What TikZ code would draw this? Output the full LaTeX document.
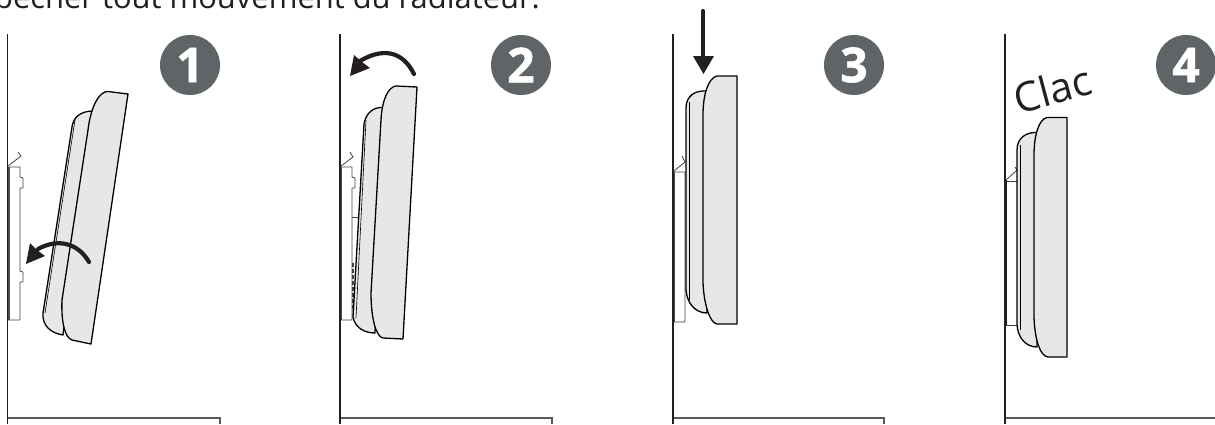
\documentclass[tikz,border=0pt]{standalone}
\usepackage{fontspec}
\setmainfont{Open Sans}
\newfontfamily\badgefont[BoldFeatures={FakeBold=1.2}]{Open Sans}
\definecolor{badge}{HTML}{5F6566}
\definecolor{bodyfill}{HTML}{E6E7E8}
\definecolor{ink}{HTML}{231F20}
\tikzset{
  wall/.style={draw=ink,line width=1.8pt},
  shelf/.style={draw=black!65,line width=1.1pt},
  bracket/.style={draw=black!75,line width=.8pt,line join=round},
  body/.style={draw=black,fill=bodyfill,line width=1.3pt,line join=round},
  thin/.style={draw=black,line width=.6pt},
  badgenode/.style={circle,fill=badge,minimum size=60pt,inner sep=0pt,text=white,font=\fontsize{48}{48}\selectfont\badgefont\bfseries},
  turn/.style={draw=ink,line width=4.2pt,line cap=round},
  head/.style={fill=ink,draw=none},
}
\begin{document}
\begin{tikzpicture}[x=1pt,y=-1pt]
\useasboundingbox (0,0) rectangle (1215,424);
\clip (0,0) rectangle (1215,424);
\node[anchor=base west,inner sep=0pt,font=\fontsize{30.9}{31}\selectfont,text=ink] (title) at (-6,8) {pêcher tout mouvement du radiateur.};
% walls and shelves
\draw[wall] (7.5,34) -- (7.5,424);
\draw[wall] (340,34) -- (340,424);
\draw[wall] (673,34) -- (673,424);
\draw[wall] (1005,34) -- (1005,424);
\draw[shelf] (8,418) -- (220,418) -- (220,424);
\draw[shelf] (341,418) -- (552,418) -- (552,424);
\draw[shelf] (674,418) -- (884,418) -- (884,424);
\draw[shelf] (1006,418) -- (1215,418);
% badges
\node[badgenode] (b1) at (190,65) {1};
\node[badgenode] (b2) at (521,65) {2};
\node[badgenode] (b3) at (854,65) {3};
\node[badgenode] (b4) at (1186,65) {4};
% panel 1
\draw[bracket] (8,167) -- (20,167) -- (20,177) -- (23,178) -- (23,188) -- (20,188) -- (20,271) -- (23,272) -- (23,282) -- (20,282) -- (20,320) -- (8,320);
\draw[bracket] (8,166) -- (21,156) -- (18,152);
\draw[line width=1.4pt,draw=black!70] (9,167) -- (9,320);
\draw[body] (93,111) .. controls (80,111) and (73,118) .. (72,127) -- (43,313) .. controls (42,325) and (50,333) .. (63,335) -- cycle;
\draw[thin] (75,120) -- (45,313);
\draw[body] (128,94) -- (108,91.5) .. controls (100,91) and (91,105) .. (88,130) -- (62,300) .. controls (61,322) and (65,338) .. (72,340) -- (91,344) -- cycle;
\draw[turn] (89,262) .. controls (78,243) and (58,238) .. (38,249);
\fill[head] (26,264) -- (30,243) -- (37,250) -- (45,256) -- cycle;
% panel 2
\draw[bracket] (341,167) -- (352,167) -- (352,177) -- (355,178) -- (355,188) -- (352,188) -- (352,320) -- (341,320);
\draw[bracket] (341,166) -- (353,157) -- (350,152);
\draw[bracket] (352,217) -- (358,217);
\draw[line width=1pt,draw=black!70] (341.5,167) -- (341.5,320);
\draw[line width=1.4pt,draw=black!75,dash pattern=on 4pt off 2pt] (353,263) -- (353,310);
\draw[body] (383,107.5) .. controls (373,107) and (366,113) .. (364,124) -- (353,317) .. controls (355,328) and (365,333) .. (375,333) -- cycle;
\draw[thin] (366,120) -- (356,318);
\draw[body] (417,87) -- (396,86) .. controls (388,87) and (382,100) .. (381,120) -- (371,293) .. controls (371,318) and (376,337) .. (383,338) -- (403,339) -- cycle;
\draw[turn] (414,74) .. controls (402,50) and (382,48) .. (360,61);
\fill[head] (350,76) -- (354,55) -- (362,62) -- (370,68) -- cycle;
% panel 3
\draw[bracket] (674,172) -- (685,172) -- (685,320) .. controls (685,322) .. (683,322) -- (674,322);
\draw[bracket] (674,171) -- (685,162) -- (682,156);
\draw[line width=1.2pt,draw=black!70] (674.5,172) -- (674.5,322);
\draw[body] (707,91) .. controls (695,90) and (686,96) .. (686,108) -- (686,290) .. controls (687,303) and (695,313) .. (707,313) -- cycle;
\draw[thin] (689,102) -- (689,300);
\draw[body] (737,76) -- (717,76) .. controls (708,78) and (703,95) .. (703,115) -- (703,283) .. controls (704,305) and (710,323) .. (717,324) -- (737,324) -- cycle;
\draw[turn] (703,11) -- (703,58);
\fill[head] (693,56) -- (714,56) -- (703.5,74) -- cycle;
% panel 4
\draw[bracket] (1006,181) -- (1017,181) (1006,325) -- (1017,325);
\draw[bracket] (1006,180) -- (1017,170) -- (1015,167);
\draw[line width=1.4pt,draw=ink] (1006,180) -- (1006,325);
\draw[body] (1037,132.5) .. controls (1026,132) and (1017,138) .. (1017,150) -- (1017,325) .. controls (1018,338) and (1026,347) .. (1037,347) -- cycle;
\draw[thin] (1020,145) -- (1020,330);
\draw[body] (1067,117.5) -- (1047,117.5) .. controls (1039,119) and (1034,135) .. (1034,155) -- (1034,318) .. controls (1035,340) and (1040,356) .. (1048,357) -- (1067,357) -- cycle;
\node[font=\fontsize{41}{41}\selectfont,text=ink,rotate=15,inner sep=0pt] (clac) at (1052,89) {Clac};
\end{tikzpicture}
\end{document}
